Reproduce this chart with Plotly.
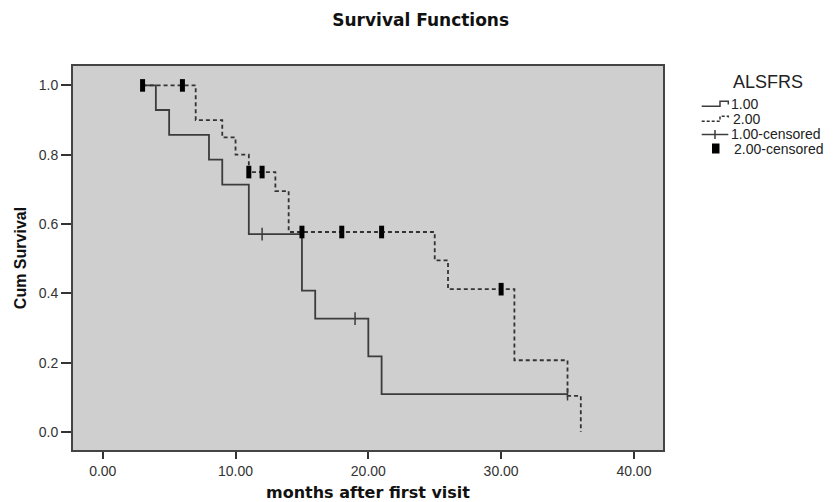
import plotly.graph_objects as go

# Group 1.00 (solid) step curve
g1_time = [3, 4, 5, 8, 9, 11, 15, 16, 20, 21, 35]
g1_surv = [1.0, 0.929, 0.857, 0.786, 0.714, 0.571, 0.408, 0.327, 0.218, 0.109, 0.109]
g1_cens_time = [12, 19, 35]
g1_cens_surv = [0.571, 0.327, 0.109]

# Group 2.00 (dashed) step curve
g2_time = [3, 7, 9, 10, 11, 13, 14, 25, 26, 31, 35, 36]
g2_surv = [1.0, 0.90, 0.85, 0.80, 0.75, 0.695, 0.577, 0.495, 0.412, 0.207, 0.104, 0.0]
g2_cens_time = [3, 6, 11, 12, 15, 18, 21, 30]
g2_cens_surv = [1.0, 1.0, 0.75, 0.75, 0.577, 0.577, 0.577, 0.412]

x_ticks = [0, 10, 20, 30, 40]
y_ticks = [0.0, 0.2, 0.4, 0.6, 0.8, 1.0]

legend_title = "ALSFRS"
legend_labels = ["1.00", "2.00", "1.00-censored", "2.00-censored"]

W, H = 838, 502
ML, MR, MT, MB = 73, 175, 66, 52
PW, PH = W - ML - MR, H - MT - MB


def px(x):
    return (x - ML) / PW


def py(y):
    return (H - MB - y) / PH


line_col = "#3c3c3c"
fig = go.Figure()
fig.add_trace(go.Scatter(x=g1_time, y=g1_surv, mode="lines", line_shape="hv",
                         line=dict(color=line_col, width=1.8), name="1.00"))
fig.add_trace(go.Scatter(x=g2_time, y=g2_surv, mode="lines", line_shape="hv",
                         line=dict(color="#333333", width=1.8, dash="4px,3px"), name="2.00"))
fig.add_trace(go.Scatter(x=g1_cens_time, y=g1_cens_surv, mode="markers",
                         marker=dict(symbol="line-ns", size=9, color=line_col,
                                     line=dict(color=line_col, width=1.5)),
                         name="1.00-censored"))
fig.add_trace(go.Scatter(x=g2_cens_time, y=g2_cens_surv, mode="markers",
                         marker=dict(symbol="line-ns", size=9, color="black",
                                     line=dict(color="black", width=5)),
                         name="2.00-censored"))

# Manual legend (SPSS-style compact rows)
leg_font = dict(family="Liberation Sans, Arial", size=14, color="#222")
fig.add_annotation(x=px(732), y=py(82), xref="paper", yref="paper", text=legend_title,
                   showarrow=False, xanchor="left", yanchor="middle", borderpad=0,
                   font=dict(family="Liberation Sans, Arial", size=18, color="#222"))
row_y = [103.5, 118.5, 133.5, 148.5]
text_x = [730, 731.5, 730, 733]
for lab, ty, tx in zip(legend_labels, row_y, text_x):
    fig.add_annotation(x=px(tx), y=py(ty), xref="paper", yref="paper", text=lab,
                       showarrow=False, xanchor="left", yanchor="middle", borderpad=0,
                       font=leg_font)


def step_path(y0):
    pts = [(701.7, y0 + 2.7), (720, y0 + 2.7), (720, y0 - 2.3), (728.3, y0 - 2.3), (728.3, y0 + 1)]
    return "M " + " L ".join(f"{px(a):.5f},{py(b):.5f}" for a, b in pts)


fig.add_shape(type="path", path=step_path(row_y[0]), xref="paper", yref="paper",
              line=dict(color=line_col, width=1.5))
fig.add_shape(type="path", path=step_path(row_y[1]), xref="paper", yref="paper",
              line=dict(color="#333", width=1.5, dash="3px,2px"))
fig.add_shape(type="line", x0=px(701.7), x1=px(728.3), y0=py(134.5), y1=py(134.5),
              xref="paper", yref="paper", line=dict(color=line_col, width=1.5))
fig.add_shape(type="line", x0=px(715), x1=px(715), y0=py(130), y1=py(139),
              xref="paper", yref="paper", line=dict(color=line_col, width=1.5))
fig.add_shape(type="rect", x0=px(712), x1=px(719.5), y0=py(143.5), y1=py(153.5),
              xref="paper", yref="paper", line=dict(width=0), fillcolor="black")

fig.update_layout(
    width=W, height=H,
    margin=dict(l=ML, r=MR, t=MT, b=MB, autoexpand=False),
    paper_bgcolor="white",
    plot_bgcolor="#cfcfcf",
    showlegend=False,
    title=dict(text="<b>Survival Functions</b>", x=0.502, xref="container",
               y=1 - 20 / H, yref="container", yanchor="middle", xanchor="center",
               font=dict(family="DejaVu Sans", size=17, color="#111")),
)
fig.update_xaxes(range=[-2.24, 42.19], tickvals=x_ticks, ticktext=[f"{v:.2f}" for v in x_ticks],
                 ticks="outside", ticklen=7, tickwidth=2, tickcolor="#333", automargin=False,
                 showgrid=False, zeroline=False, showline=True, mirror=True,
                 linecolor="#444", linewidth=2,
                 tickfont=dict(family="Liberation Sans, Arial", size=14, color="#333"),
                 title=dict(text="<b>months after first visit</b>", standoff=20,
                            font=dict(family="DejaVu Sans", size=16, color="#111")))
fig.update_yaxes(range=[-0.052, 1.056], tickvals=y_ticks, ticktext=[f"{v:.1f}" for v in y_ticks],
                 ticks="outside", ticklen=10, tickwidth=2, tickcolor="#333", automargin=False,
                 showgrid=False, zeroline=False, showline=True, mirror=True,
                 linecolor="#444", linewidth=2,
                 tickfont=dict(family="Liberation Sans, Arial", size=14, color="#333"),
                 title=dict(text="<b>Cum Survival</b>", standoff=8,
                            font=dict(family="Liberation Sans, Arial", size=16, color="#111")))

fig.write_html("out.html")
